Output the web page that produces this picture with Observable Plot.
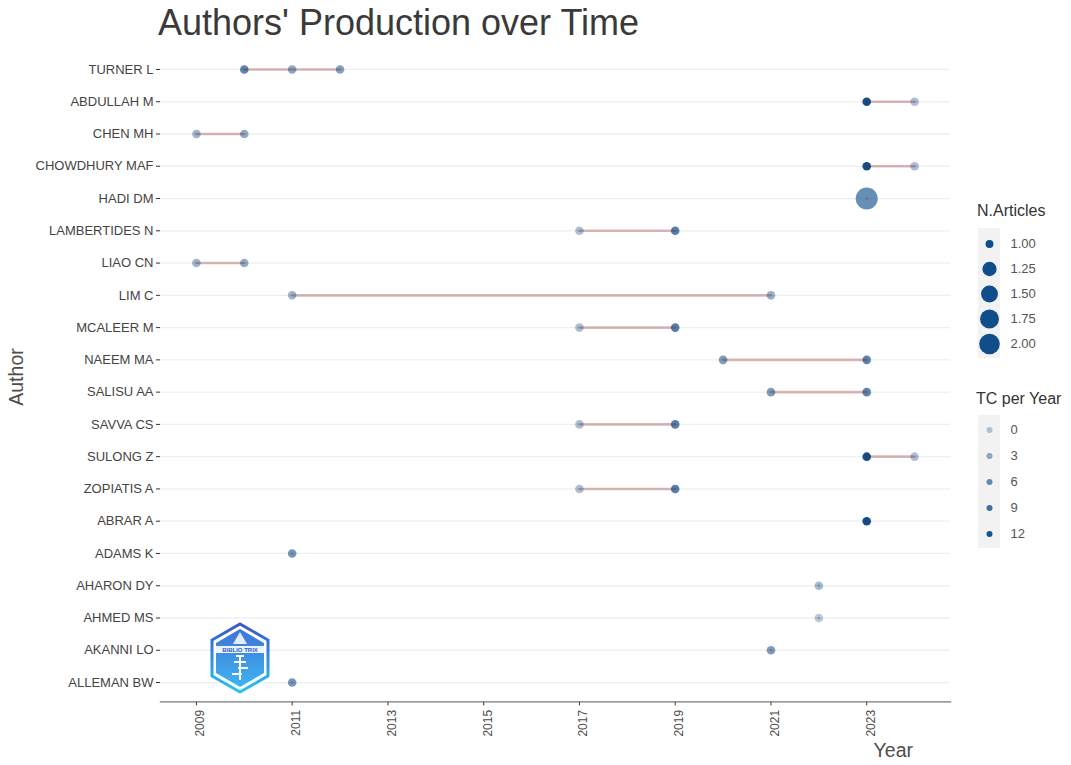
<!DOCTYPE html>
<html>
<head>
<meta charset="utf-8">
<script src="https://cdn.jsdelivr.net/npm/d3@7"></script>
<script src="https://cdn.jsdelivr.net/npm/@observablehq/plot@0.6"></script>
<style>
  html, body { margin: 0; padding: 0; background: #fff; }
  #wrap { position: relative; width: 1071px; height: 765px; overflow: hidden; font-family: "Liberation Sans", Arial, sans-serif; }
  .abs { position: absolute; white-space: nowrap; line-height: 1; }
  #title { left: 158px; top: 5px; font-size: 36px; color: #3a3a3a; }
  #ylab { left: 17px; top: 377px; font-size: 19.5px; color: #4d4d4d; transform: translate(-50%, -50%) rotate(-90deg); }
  #xlab { right: 158px; top: 741px; font-size: 19.5px; color: #4d4d4d; }
  .ltitle { font-size: 16px; color: #333; }
  .keybox { position: absolute; background: #f2f2f2; width: 22px; }
  #chart svg, .legend svg { background: transparent !important; }
</style>
</head>
<body>
<div id="wrap">
  <div id="chart" class="abs" style="left:0;top:0"></div>
  <div id="title" class="abs">Authors' Production over Time</div>
  <div id="ylab" class="abs">Author</div>
  <div id="xlab" class="abs">Year</div>
  <div class="abs ltitle" style="left:977px; top:203px">N.Articles</div>
  <div class="keybox" style="left:978px; top:228px; height:130px"></div>
  <div id="leg1" class="abs legend" style="left:978px; top:228px"></div>
  <div class="abs ltitle" style="left:976px; top:391px">TC per Year</div>
  <div class="keybox" style="left:978px; top:415px; height:133px"></div>
  <div id="leg2" class="abs legend" style="left:978px; top:415px"></div>
  <svg class="abs" style="left:209px; top:622px" width="62" height="72" viewBox="0 0 62 72">
    <defs>
      <linearGradient id="hexg" x1="0" y1="0" x2="0" y2="1">
        <stop offset="0" stop-color="#3a57c9"/>
        <stop offset="1" stop-color="#25c4f4"/>
      </linearGradient>
      <linearGradient id="hexf" x1="0" y1="0" x2="0" y2="1">
        <stop offset="0" stop-color="#3f74d6"/>
        <stop offset="1" stop-color="#3fb4f0"/>
      </linearGradient>
    </defs>
    <polygon points="31,2 59,18 59,54 31,70 3,54 3,18" fill="#ffffff" stroke="url(#hexg)" stroke-width="3"/>
    <polygon points="31,7 55,21 55,51 31,65 7,51 7,21" fill="url(#hexf)"/>
    <polygon points="31,10 38,22 24,22" fill="#ffffff" opacity="0.85"/>
    <rect x="7" y="24" width="48" height="7" fill="#ffffff" opacity="0.9"/>
    <text x="31" y="30" font-size="6" text-anchor="middle" fill="#2a5cc4" font-family="Liberation Sans, Arial" font-weight="bold">BIBLIO TRIX</text>
    <path d="M27,34 L35,34 M25,40 L37,40 M29,46 L39,46 M23,52 L33,52 M31,34 L31,58" stroke="#ffffff" stroke-width="2" fill="none"/>
  </svg>
</div>
<script>
// ---- data ----
const authors = ["TURNER L","ABDULLAH M","CHEN MH","CHOWDHURY MAF","HADI DM","LAMBERTIDES N","LIAO CN","LIM C","MCALEER M","NAEEM MA","SALISU AA","SAVVA CS","SULONG Z","ZOPIATIS A","ABRAR A","ADAMS K","AHARON DY","AHMED MS","AKANNI LO","ALLEMAN BW"];

const pointAuthor = ["TURNER L","TURNER L","TURNER L","ABDULLAH M","ABDULLAH M","CHEN MH","CHEN MH","CHOWDHURY MAF","CHOWDHURY MAF","HADI DM","LAMBERTIDES N","LAMBERTIDES N","LIAO CN","LIAO CN","LIM C","LIM C","MCALEER M","MCALEER M","NAEEM MA","NAEEM MA","SALISU AA","SALISU AA","SAVVA CS","SAVVA CS","SULONG Z","SULONG Z","ZOPIATIS A","ZOPIATIS A","ABRAR A","ADAMS K","AHARON DY","AHMED MS","AKANNI LO","ALLEMAN BW"];
const pointYear   = [2010,2011,2012, 2023,2024, 2009,2010, 2023,2024, 2023, 2017,2019, 2009,2010, 2011,2021, 2017,2019, 2020,2023, 2021,2023, 2017,2019, 2023,2024, 2017,2019, 2023, 2011, 2022, 2022, 2021, 2011];
const pointArticles = [1,1,1, 1,1, 1,1, 1,1, 2, 1,1, 1,1, 1,1, 1,1, 1,1, 1,1, 1,1, 1,1, 1,1, 1, 1, 1, 1, 1, 1];
const pointTCperYear = [7,3.5,4, 12.5,1, 2,3, 12.5,1, 6, 1,7.5, 2,3, 2,2.5, 1,7.5, 4.5,7, 4.5,7, 1,7.5, 12.5,1, 1,7.5, 12.5, 5, 1.5, 0, 4.5, 5];

const yearTicks = [2009,2011,2013,2015,2017,2019,2021,2023];
const sizeBreaks = [1.00,1.25,1.50,1.75,2.00];
const tcBreaks = [0,3,6,9,12];

// ---- table ----
const table = pointAuthor.map((a, i) => ({author: a, year: pointYear[i], n: pointArticles[i], tc: pointTCperYear[i]}))
  .sort((p, q) => d3.ascending(p.year, q.year));

// ggplot-like area scale for size: rescale then sqrt
const sizeValue = n => 1 + Math.sqrt(n - 1);
const rScale = {type: "linear", domain: [1, 2], range: [4.3, 11]};
const opScale = {domain: [0, 12.5], range: [0.3, 1]};
const pointColor = "#104E8B";

const chart = Plot.plot({
  width: 1071,
  height: 765,
  marginLeft: 160,
  marginRight: 121,
  marginTop: 49.6,
  marginBottom: 63.6,
  style: {fontFamily: "'Liberation Sans', Arial, sans-serif", fontSize: "13px", color: "#444", background: "transparent"},
  x: {domain: [2008.25, 2024.75]},
  y: {type: "point", domain: authors, padding: 0.6, round: false},
  r: rScale,
  opacity: opScale,
  marks: [
    Plot.gridY({stroke: "#efefef", strokeOpacity: 1, strokeWidth: 1.3}),
    Plot.axisY({tickSize: 4, tickPadding: 3, fontSize: 13, label: null, stroke: "#333"}),
    Plot.axisX({ticks: yearTicks, tickFormat: () => "", tickSize: 4, label: null, stroke: "#333"}),
    Plot.axisX({ticks: yearTicks, tickFormat: d => String(d), tickRotate: -90, tickSize: 0, tickPadding: 8, fontSize: 12, label: null, dx: 4, fill: "#4d4d4d"}),
    Plot.frame({anchor: "bottom", stroke: "#777", strokeWidth: 1.4}),
    Plot.dot(table, {x: "year", y: "author", r: d => sizeValue(d.n), fill: pointColor, fillOpacity: "tc", stroke: null}),
    Plot.line(table, {x: "year", y: "author", z: "author", stroke: "#8B1A1A", strokeOpacity: 0.3, strokeWidth: 2.6})
  ]
});
document.getElementById("chart").appendChild(chart);

const leg1 = Plot.plot({
  width: 92, height: 130, margin: 0,
  style: {fontFamily: "'Liberation Sans', Arial, sans-serif", fontSize: "13px", color: "#555", background: "transparent"},
  y: {type: "band", domain: sizeBreaks, range: [0, 130], axis: null},
  r: rScale,
  marks: [
    Plot.dot(sizeBreaks, {y: d => d, r: d => sizeValue(d) * 0.95, fill: pointColor, frameAnchor: "left", dx: 11}),
    Plot.text(sizeBreaks, {y: d => d, text: d => d.toFixed(2), frameAnchor: "left", dx: 32, textAnchor: "start", fill: "#555", fontSize: 13})
  ]
});
document.getElementById("leg1").appendChild(leg1);

const leg2 = Plot.plot({
  width: 92, height: 133, margin: 0,
  style: {fontFamily: "'Liberation Sans', Arial, sans-serif", fontSize: "13px", color: "#555", background: "transparent"},
  y: {type: "band", domain: tcBreaks, range: [0, 133], axis: null},
  opacity: opScale,
  marks: [
    Plot.dot(tcBreaks, {y: d => d, r: 3, fill: pointColor, fillOpacity: d => d, frameAnchor: "left", dx: 11}),
    Plot.text(tcBreaks, {y: d => d, text: d => String(d), frameAnchor: "left", dx: 32, textAnchor: "start", fill: "#555", fontSize: 13})
  ]
});
document.getElementById("leg2").appendChild(leg2);
</script>
</body>
</html>
